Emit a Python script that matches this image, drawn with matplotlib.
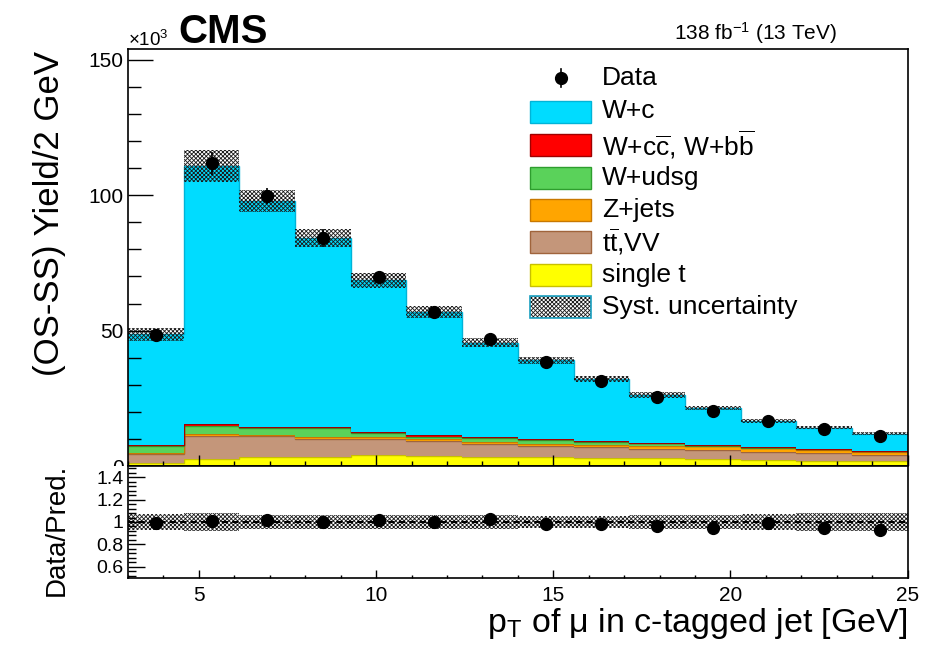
import numpy as np
import matplotlib
matplotlib.use('Agg')
import matplotlib.pyplot as plt
from matplotlib.patches import Rectangle
from matplotlib.lines import Line2D
from matplotlib.ticker import MultipleLocator, FuncFormatter

plt.rcParams['font.family'] = ['Liberation Sans', 'DejaVu Sans']
plt.rcParams['mathtext.fontset'] = 'custom'
plt.rcParams['mathtext.rm'] = 'Liberation Sans'
plt.rcParams['mathtext.it'] = 'Liberation Sans:italic'
plt.rcParams['mathtext.bf'] = 'Liberation Sans:bold'
plt.rcParams['hatch.linewidth'] = 0.6

# ---------------- data (yields in units of 10^3) ----------------
bin_edges = [3.00, 4.571, 6.143, 7.714, 9.286, 10.857, 12.429, 14.00,
             15.571, 17.143, 18.714, 20.286, 21.857, 23.429, 25.00]
data = [48.2, 111.8, 99.6, 84.2, 69.8, 57.0, 46.8, 38.3, 31.5, 25.3, 20.2, 16.6, 13.5, 11.1]
data_err = [1.5, 4.3, 3.0, 3.4, 2.2, 1.8, 1.5, 1.3, 1.1, 1.0, 0.9, 0.8, 0.7, 0.6]

single_t = [1.0, 2.6, 3.2, 3.4, 4.0, 3.55, 3.5, 3.2, 3.0, 2.9, 2.6, 2.3, 1.95, 1.7]
tt_vv = [3.6, 8.5, 7.7, 6.5, 5.8, 5.75, 4.6, 4.26, 3.87, 3.35, 3.33, 2.96, 2.72, 2.3]
z_jets = [0.35, 0.65, 0.5, 0.65, 1.0, 0.6, 0.7, 0.84, 0.93, 1.2, 1.3, 1.34, 1.23, 1.26]
w_udsg = [2.45, 2.85, 2.6, 3.65, 1.3, 0.9, 1.5, 1.26, 1.13, 0.9, 0.2, 0.2, 0.2, 0.15]
w_ccbb = [0.25, 0.8, 0.45, 0.25, 0.3, 0.5, 0.36, 0.24, 0.27, 0.25, 0.2, 0.1, 0.1, 0.1]
w_c = [41.0, 95.4, 83.35, 69.85, 56.2, 45.7, 34.9, 29.2, 22.9, 17.6, 13.8, 9.9, 8.0, 6.4]

syst_rel = [0.048, 0.054, 0.042, 0.040, 0.040, 0.038, 0.034, 0.036, 0.036, 0.040, 0.042, 0.044, 0.046, 0.046]
ratio_unc = [0.069, 0.080, 0.059, 0.059, 0.059, 0.059, 0.059, 0.051, 0.051, 0.063, 0.063, 0.073, 0.080, 0.080]

labels = ["W+c", r"W+c$\overline{\mathregular{c}}$, W+b$\overline{\mathregular{b}}$", "W+udsg",
          "Z+jets", r"t$\overline{\mathregular{t}}$,VV", "single t"]

# ---------------- figure layout ----------------
W, H = 947, 647
fig = plt.figure(figsize=(W / 100, H / 100), dpi=100)


def fx(px):
    return px / W


def fy(py):
    return 1 - py / H


L, R = 128, 907.7
T1, B1, B2 = 49, 466, 578
ax = fig.add_axes([fx(L), fy(B1), fx(R) - fx(L), fy(T1) - fy(B1)], zorder=0)
axr = fig.add_axes([fx(L), fy(B2), fx(R) - fx(L), fy(B1) - fy(B2)], zorder=1)
fig.patches.append(Rectangle((0, 0), 1, fy(B1), transform=fig.transFigure,
                             facecolor='white', edgecolor='none', zorder=0.5))

edges = np.array(bin_edges)
centers = 0.5 * (edges[:-1] + edges[1:])
n = len(centers)

layers = [
    (single_t, '#FFFF00', '#C8C000'),
    (tt_vv, '#C4967A', '#A0643C'),
    (z_jets, '#FFA500', '#C87800'),
    (w_udsg, '#5AD25A', '#2E9E2E'),
    (w_ccbb, '#FF0000', '#A00000'),
    (w_c, '#00DCFF', '#00B4D8'),
]
bottom = np.zeros(n)
for vals, fc, ec in layers:
    top = bottom + np.array(vals)
    ax.stairs(top, edges, baseline=bottom, fill=True, color=fc, lw=0)
    ax.stairs(top, edges, baseline=None, color=ec, lw=1.0)
    bottom = top
total = bottom

syst = np.array(syst_rel)
ax.stairs(total * (1 + syst), edges, baseline=total * (1 - syst), fill=True,
          facecolor='none', edgecolor='#1a1a1a', hatch='xxxxxxxx', lw=0)

ax.errorbar(centers, data, yerr=data_err, fmt='o', color='k', ms=8.5,
            elinewidth=1.2, capsize=0, zorder=5)

ax.set_xlim(3, 25)
ax.set_ylim(0, 154)
ax.xaxis.set_major_locator(MultipleLocator(5))
ax.xaxis.set_minor_locator(MultipleLocator(1))
ax.yaxis.set_major_locator(MultipleLocator(50))
ax.yaxis.set_minor_locator(MultipleLocator(10))
ax.tick_params(axis='x', which='major', direction='in', length=8, width=1,
               labelbottom=False, top=False)
ax.tick_params(axis='x', which='minor', direction='in', length=3.6, width=1, top=False)
ax.tick_params(axis='y', which='major', direction='in', length=18, width=1,
               labelsize=15, right=False, pad=3)
ax.tick_params(axis='y', which='minor', direction='in', length=9, width=1, right=False)
for s in ax.spines.values():
    s.set_linewidth(1.2)

ax.set_ylabel('(OS-SS) Yield/2 GeV', fontsize=25, va='center')
ax.yaxis.set_label_coords((50 - L) / (R - L), (B1 - 213) / (B1 - T1))

# ---------------- legend (manual, ROOT-like) ----------------
def axx(px):
    return (px - L) / (R - L)


def axy(py):
    return (B1 - py) / (B1 - T1)


row_y = [78, 111.5, 145, 177.5, 210, 242, 275, 307]
text_x = 602
leg_fs = 19
# Data
ax.add_line(Line2D([axx(561), axx(561)], [axy(row_y[0] - 9), axy(row_y[0] + 9)],
                   transform=ax.transAxes, color='k', lw=1.2, zorder=6))
ax.add_line(Line2D([axx(561)], [axy(row_y[0])], transform=ax.transAxes, marker='o',
                   ms=8.5, color='k', zorder=6))
ax.text(axx(text_x), axy(row_y[0]), 'Data', transform=ax.transAxes, fontsize=leg_fs,
        va='center', ha='left')
leg_colors = [layers[5], layers[4], layers[3], layers[2], layers[1], layers[0]]
for i, (lab, (vals, fc, ec)) in enumerate(zip(labels, leg_colors)):
    yc = row_y[i + 1]
    ax.add_patch(Rectangle((axx(530), axy(yc + 11)), axx(591) - axx(530), axy(yc - 11) - axy(yc + 11),
                           transform=ax.transAxes, facecolor=fc, edgecolor=ec, lw=1.0, zorder=6))
    ax.text(axx(text_x), axy(yc), lab, transform=ax.transAxes, fontsize=leg_fs,
            va='center', ha='left')
yc = row_y[7]
ax.add_patch(Rectangle((axx(530), axy(yc + 11)), axx(591) - axx(530), axy(yc - 11) - axy(yc + 11),
                       transform=ax.transAxes, facecolor='white', edgecolor='#1a1a1a',
                       hatch='xxxxxxxx', lw=0, zorder=6))
ax.add_patch(Rectangle((axx(530), axy(yc + 11)), axx(591) - axx(530), axy(yc - 11) - axy(yc + 11),
                       transform=ax.transAxes, facecolor='none', edgecolor='#1AA0C0',
                       lw=1.2, zorder=6))
ax.text(axx(text_x), axy(yc), 'Syst. uncertainty', transform=ax.transAxes, fontsize=leg_fs,
        va='center', ha='left')

# ---------------- ratio panel ----------------
data_a = np.array(data)
ratio = data_a / total
ratio_err = np.array(data_err) / total
runc = np.array(ratio_unc)
axr.stairs(1 + runc, edges, baseline=1 - runc, fill=True, facecolor='none',
           edgecolor='#1a1a1a', hatch='xxxxxxxx', lw=0)
axr.axhline(1.0, color='k', lw=1.5, ls=(0, (3, 2)))
axr.errorbar(centers, ratio, yerr=ratio_err, fmt='o', color='k', ms=8.5,
             elinewidth=1.2, capsize=0, zorder=5)
axr.set_xlim(3, 25)
axr.set_ylim(0.5, 1.5)
axr.xaxis.set_major_locator(MultipleLocator(5))
axr.xaxis.set_minor_locator(MultipleLocator(1))
axr.yaxis.set_major_locator(MultipleLocator(0.2))
axr.yaxis.set_minor_locator(MultipleLocator(0.04))
axr.yaxis.set_major_formatter(FuncFormatter(lambda v, p: '%g' % round(v, 2)))
axr.tick_params(axis='x', which='major', direction='in', length=6, width=1,
                labelsize=15, pad=6, top=False)
axr.tick_params(axis='x', which='minor', direction='in', length=2.5, width=1, top=False)
axr.tick_params(axis='y', which='major', direction='in', length=12, width=1,
                labelsize=14, pad=3, right=False)
axr.tick_params(axis='y', which='minor', direction='in', length=6, width=1, right=False)
for s in axr.spines.values():
    s.set_linewidth(1.2)

axr.set_ylabel('Data/Pred.', fontsize=20, va='center')
axr.yaxis.set_label_coords((57 - L) / (R - L), (B2 - 530) / (B2 - B1))
axr.set_xlabel(r'p$_{\mathregular{T}}$ of μ in c-tagged jet [GeV]', fontsize=24.5,
               ha='right', va='baseline')
axr.xaxis.set_label_coords(1.0, (B2 - 632) / (B2 - B1))

# ---------------- header texts ----------------
fig.text(fx(128), fy(46), '×10$^{\\mathregular{3}}$', fontsize=13.5, ha='left', va='baseline')
fig.text(fx(178), fy(43), 'CMS', fontsize=29, fontweight='bold', ha='left', va='baseline')
fig.text(fx(837), fy(40), '138 fb$^{\\mathregular{-1}}$ (13 TeV)', fontsize=15,
         ha='right', va='baseline')

fig.savefig('out.png', dpi=100)
